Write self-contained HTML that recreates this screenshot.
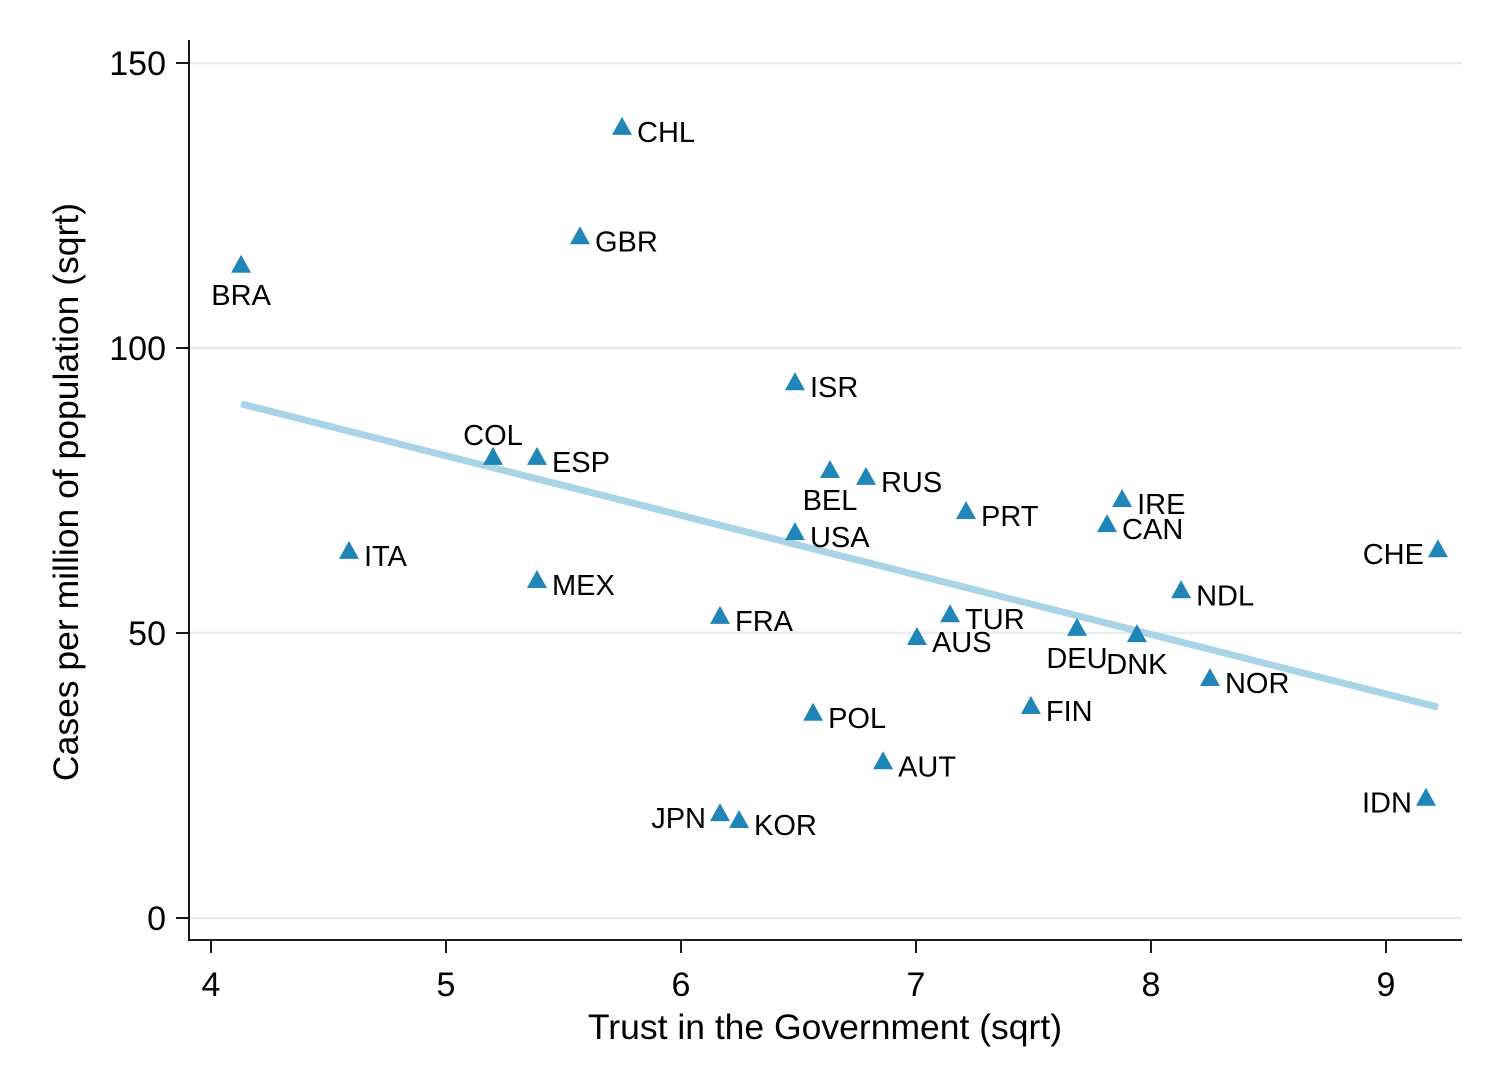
<!DOCTYPE html>
<html><head><meta charset="utf-8"><style>
html,body{margin:0;padding:0;background:#fff}
svg{display:block;font-family:"Liberation Sans",Arial,sans-serif}
</style></head><body>
<svg id="chart" width="1502" height="1092" viewBox="0 0 1502 1092">
<rect x="0" y="0" width="1502" height="1092" fill="#fff"/>
<g id="grid"></g><g id="axes"></g><g id="fit"></g><g id="pts"></g>
</svg>
<script>
const countries=["CHL","GBR","BRA","ISR","COL","ESP","BEL","RUS","PRT","IRE","CAN","USA","ITA","CHE","MEX","NDL","FRA","TUR","AUS","DEU","DNK","NOR","FIN","POL","AUT","IDN","JPN","KOR"];
const trust=[5.749,5.57,4.128,6.485,5.2,5.387,6.634,6.787,7.213,7.877,7.813,6.485,4.587,9.221,5.387,8.128,6.166,7.145,7.004,7.685,7.94,8.251,7.489,6.562,6.86,9.17,6.166,6.247];
const cases=[138.8,119.6,114.6,94.0,80.9,80.9,78.6,77.4,71.4,73.5,69.1,67.7,64.4,64.7,59.3,57.5,53.0,53.3,49.3,50.9,49.8,42.1,37.2,36.0,27.5,21.1,18.4,17.2];
const labelPos=["r","r","b","r","t","r","b","r","r","r","r","r","r","l","r","r","r","r","r","b","b","r","r","r","r","l","l","r"];
const xTicks=[4,5,6,7,8,9];
const yTicks=[0,50,100,150];
const fitX=[4.128,9.221];
const fitY=[90.2,37.0];
const NS="http://www.w3.org/2000/svg";
const X=v=>211+(v-4)*235;
const Y=v=>918-v*5.7;
function mk(tag,attrs,parent,text){const e=document.createElementNS(NS,tag);for(const k in attrs)e.setAttribute(k,attrs[k]);if(text!==undefined)e.textContent=text;parent.appendChild(e);return e;}
const grid=document.getElementById('grid'),axes=document.getElementById('axes'),fit=document.getElementById('fit'),pts=document.getElementById('pts');
yTicks.forEach(t=>{
 const g=mk('line',{x1:189,x2:1462,y1:Y(t),y2:Y(t),stroke:'#e6eef1','stroke-width':2.5},grid);
 
 
 const tk=mk('line',{x1:176,x2:189,y1:Y(t),y2:Y(t),stroke:'#000','stroke-width':1.8},axes);
 
 
 const l=mk('text',{x:166,y:Y(t)+12,'text-anchor':'end','font-size':34},axes,t);
 
 
});
xTicks.forEach(t=>{
 const tk=mk('line',{x1:X(t),x2:X(t),y1:940,y2:953,stroke:'#000','stroke-width':1.8},axes);
 
 
 const l=mk('text',{x:X(t),y:996,'text-anchor':'middle','font-size':34},axes,t);
 
 
});
const ya=mk('line',{x1:189,x2:189,y1:40,y2:941,stroke:'#000','stroke-width':1.8},axes);


const xa=mk('line',{x1:188,x2:1462,y1:940,y2:940,stroke:'#000','stroke-width':1.8},axes);


const xt=mk('text',{x:825,y:1039,'text-anchor':'middle','font-size':35.5},axes,'Trust in the Government (sqrt)');


const yt=mk('text',{x:0,y:0,'text-anchor':'middle','font-size':35.5,transform:'translate(78,492) rotate(-90)'},axes,'Cases per million of population (sqrt)');


const fl=mk('line',{x1:X(fitX[0]),y1:Y(fitY[0]),x2:X(fitX[1]),y2:Y(fitY[1]),stroke:'#a8d4e6','stroke-width':7},fit);


countries.forEach((c,i)=>{
 const cx=X(trust[i]),cy=Y(cases[i]);
 const p=mk('polygon',{points:`${cx},${cy-10} ${cx-10},${cy+8} ${cx+10},${cy+8}`,fill:'#1f86b7'},pts);
 
 
 let a={'font-size':29};
 const pos=labelPos[i];
 if(pos==='r'){a.x=cx+15;a.y=cy+15;a['text-anchor']='start';}
 else if(pos==='l'){a.x=cx-14;a.y=cy+15;a['text-anchor']='end';}
 else if(pos==='b'){a.x=cx;a.y=cy+40;a['text-anchor']='middle';}
 else {a.x=cx;a.y=cy-12;a['text-anchor']='middle';}
 const t=mk('text',a,pts,c);
 
 
});
</script>
</body></html>
